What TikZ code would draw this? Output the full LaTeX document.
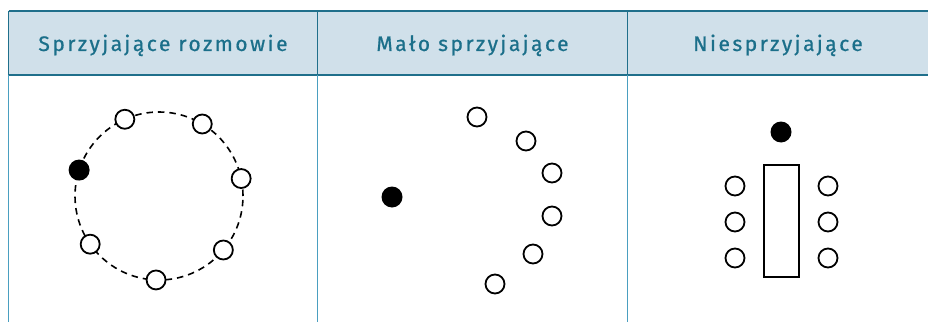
\documentclass[tikz,border=0pt]{standalone}
\usepackage{fontspec}
\newfontfamily\headfont[LetterSpace=12, FakeBold=0.7]{Fira Sans}
\usepackage{tikz}

\definecolor{headfill}{HTML}{D0E0EA}
\definecolor{headline}{HTML}{1F6F8B}
\definecolor{headtext}{HTML}{1B6F8A}
\definecolor{bodyline}{HTML}{4A9FC0}

\tikzset{
  seat/.style={circle, draw=black, fill=white, line width=1.8pt, minimum size=19pt, inner sep=0pt},
  host/.style={circle, fill=black, minimum size=21pt, inner sep=0pt},
  desk/.style={draw=black, line width=1.8pt},
  headlabel/.style={anchor=base, text=headtext, font=\headfont\fontsize{21}{24}\selectfont}
}

\begin{document}
\begin{tikzpicture}[x=1pt, y=1pt]
    \useasboundingbox (0,0) rectangle (928,322);
    % Draw the header band
    \fill[headfill] (8.5,247) rectangle (928,311);
    \draw[headline, line width=1.8pt] (8.5,311) -- (928,311);
    \draw[headline, line width=1.8pt] (8.5,247) -- (928,247);
    % Draw the column lines
    \foreach \x in {8.5,317.5,627.5} {
        \draw[headline, line width=1.8pt] (\x,311) -- (\x,247);
        \draw[bodyline, line width=1.8pt] (\x,247) -- (\x,0);
    }
    % Column titles
    \node[headlabel] (t1) at (163,271) {Sprzyjające rozmowie};
    \node[headlabel] (t2) at (472.5,271) {Mało sprzyjające};
    \node[headlabel] (t3) at (778,271) {Niesprzyjające};
    % Circle of seats
    \coordinate (c1) at (159,126);
    \draw[dashed, dash pattern=on 6.5pt off 5pt, line width=1.6pt] (c1) circle (84);
    \node[host] (h1) at ([shift={(162:84)}]c1) {};
    \foreach \a [count=\i] in {114,59,12,-40,-92,-145}
        \node[seat] (s1-\i) at ([shift={(\a:84)}]c1) {};
    % Half circle of seats
    \node[host] (h2) at (392,125) {};
    \node[seat] (s2-1) at (477,205) {};
    \node[seat] (s2-2) at (526,181) {};
    \node[seat] (s2-3) at (552,149) {};
    \node[seat] (s2-4) at (552,106) {};
    \node[seat] (s2-5) at (533,68) {};
    \node[seat] (s2-6) at (495,38) {};
    % Table with seats on both sides
    \node[host] (h3) at (781,190) {};
    \draw[desk] (764,45) rectangle (799,157);
    \foreach \y [count=\i] in {136,100,64} {
        \node[seat] (l3-\i) at (735,\y) {};
        \node[seat] (r3-\i) at (828,\y) {};
    }
\end{tikzpicture}
\end{document}
